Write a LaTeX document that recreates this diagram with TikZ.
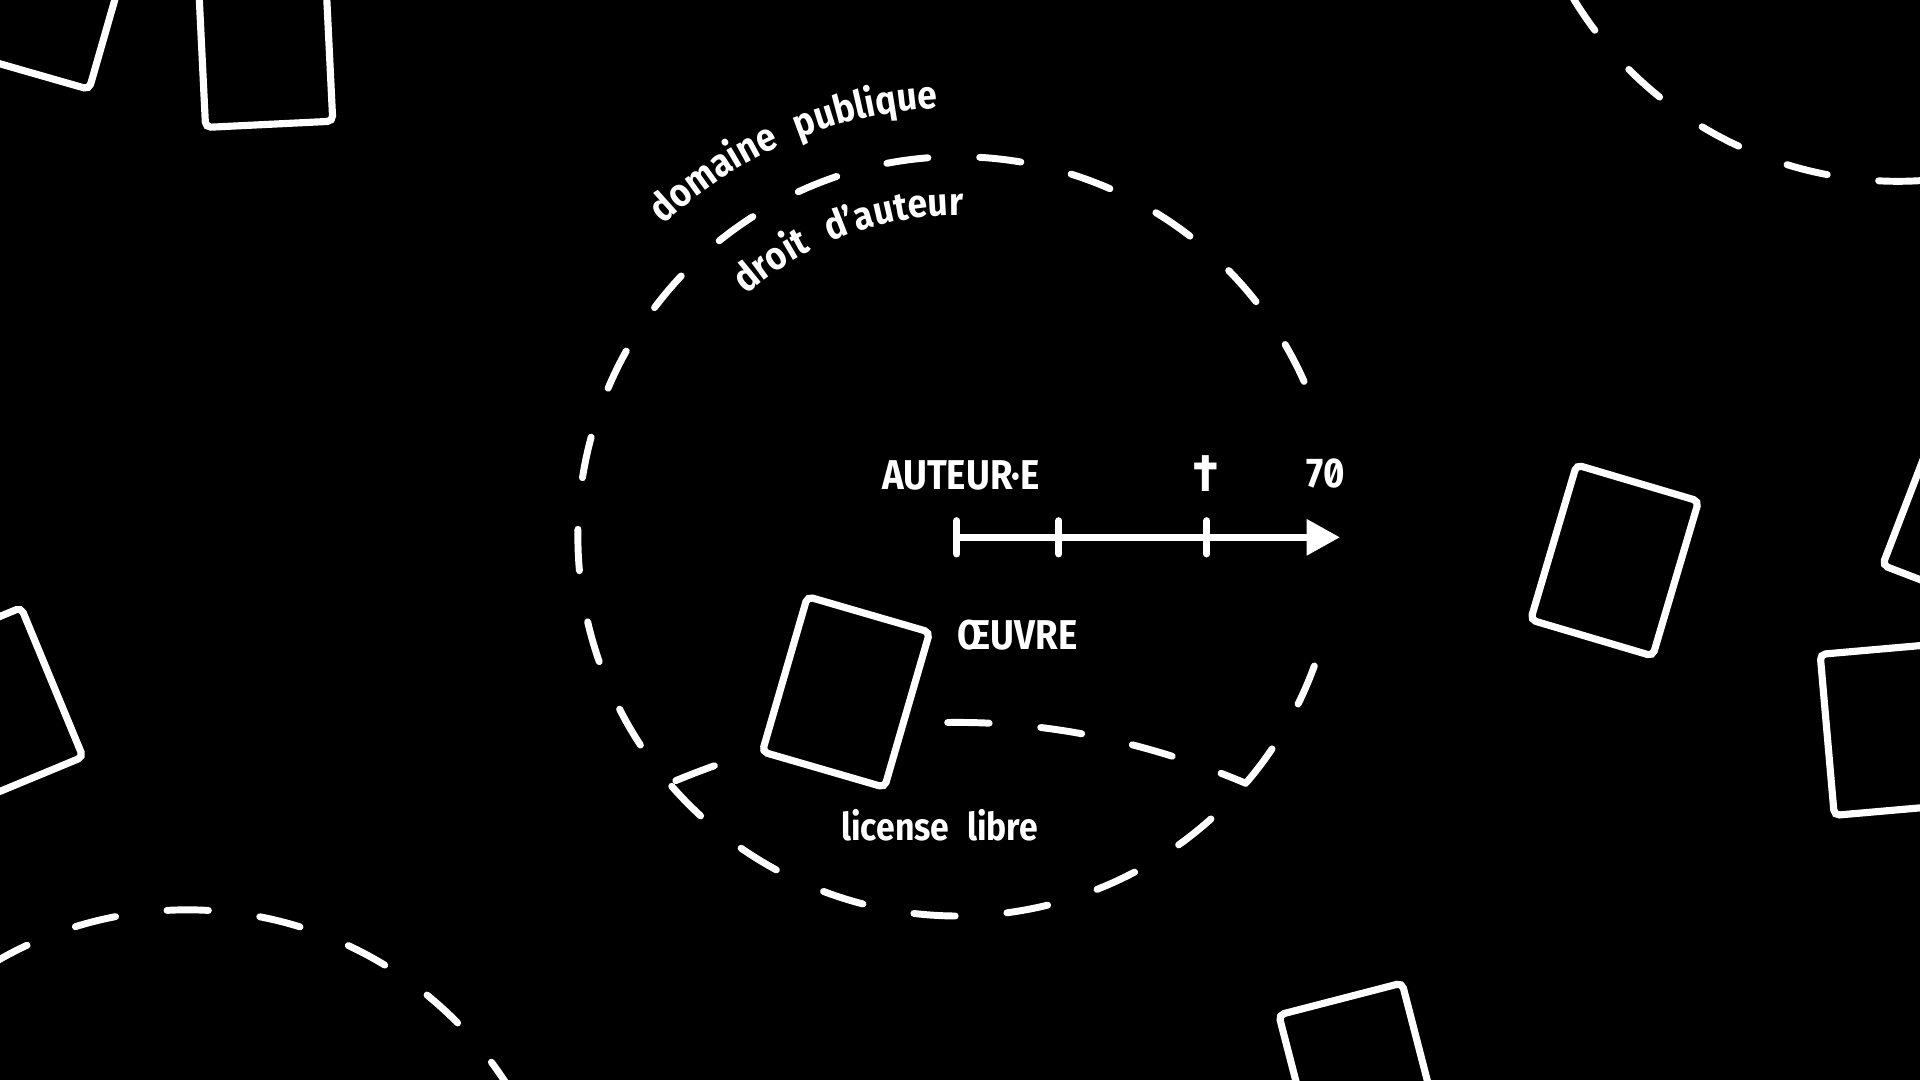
\documentclass[tikz,border=0pt]{standalone}
\usepackage{fontspec}
\usetikzlibrary{arrows.meta,decorations.text}
\newfontfamily\labfont{Fira Sans}[FakeStretch=0.88,Numbers=SlashedZero]
\newfontfamily\curvefont{Fira Sans}[FakeStretch=0.9]
\begin{document}
\begin{tikzpicture}[x=0.6pt,y=-0.6pt,
  card/.style={draw=white, fill=black, line width=3.5pt, rounded corners=2.6pt,
    minimum width=62.4pt, minimum height=79.2pt, inner sep=0pt, outer sep=0pt},
  dashline/.style={draw=white, line width=3.4pt, line cap=round,
    dash pattern=on 20.3pt off 25.4pt},
  axisline/.style={draw=white, line width=3.4pt, line cap=round,
    -{Triangle[length=16.3pt,width=17pt]}},
  tick/.style={draw=white, line width=3.4pt, line cap=round},
  lab/.style={text=white, inner sep=0pt,
    font=\labfont\bfseries\fontsize{20.4pt}{20.4pt}\selectfont},
  labsmall/.style={text=white, inner sep=0pt,
    font=\labfont\bfseries\fontsize{18.8pt}{18.8pt}\selectfont}
]
\fill[black] (0,0) rectangle (1568,882);
\useasboundingbox (0,0) rectangle (1568,882);
\clip (0,0) rectangle (1568,882);

% main region: droit d'auteur circle
\coordinate (C) at (782,438);
\draw[dashline] ([shift={(-24.1:310)}]C) arc[start angle=-24.1, end angle=-340.3, radius=310];
% license libre boundary
\coordinate (L) at (546.6,639.7);
\coordinate (R) at (1017.4,639.7);
\draw[dashline, dash phase=42.3pt] (L) .. controls (703.5,573.4) and (860.3,573.4) .. (R);

% neighbouring circles
\coordinate (C2) at (1550,-162);
\coordinate (C3) at (153,1053);
\draw[dashline] ([shift={(-196.7:310)}]C2) arc[start angle=-196.7, end angle=-320, radius=310];
\draw[dashline] ([shift={(-135.3:310)}]C3) arc[start angle=-135.3, end angle=10, radius=310];

% cards
\node[card, rotate=-16]   (c1) at (41,-4.8) {};
\node[card, rotate=2.8]   (c2) at (216.6,35.6) {};
\node[card, rotate=22.5]  (c3) at (-5.5,577.1) {};
\node[card, rotate=-16.2] (oeuvre) at (690.9,565.1) {};
\node[card, rotate=-16.5] (c5) at (1318.6,457.7) {};
\node[card, rotate=-21]   (c6) at (1609.6,418.6) {};
\node[card, rotate=5]     (c7) at (1544,595.6) {};
\node[card, rotate=14.5]  (c8) at (1111.2,879.7) {};

% timeline
\coordinate (t0) at (781.5,438.8);
\coordinate (t1) at (864.8,438.8);
\coordinate (t2) at (985.5,438.8);
\coordinate (tip) at (1094.3,438.8);
\draw[axisline] (t0) -- (tip);
\foreach \t in {t0,t1,t2} \draw[tick] ([yshift=8.16pt]\t) -- ([yshift=-8.16pt]\t);

% labels
\node[lab, anchor=base] (auteur) at (784.7,399.6) {AUTEUR·E};
\node[lab, font=\labfont\bfseries\fontsize{26pt}{26pt}\selectfont] (dagger) at (985,386.5) {†};
\node[lab, anchor=base] (seventy) at (1082.8,398.5) {70};
\node[lab, anchor=base] (oeuvretxt) at (831,530.8) {ŒUVRE};
\node[labsmall, anchor=base] (libre) at (767.4,686.5) {license\hspace{0.25em} libre};

% curved labels
\path[decorate, decoration={text along path, text color=white,
  text={|\curvefont\bfseries\fontsize{19.2pt}{19.2pt}\selectfont|domaine{\hspace{0.3em}} publique}}]
  ([shift={(-133.3:350)}]C) arc[start angle=-133.3, end angle=-55, radius=350];
\path[decorate, decoration={text along path, text color=white,
  text={|\curvefont\bfseries\fontsize{19.2pt}{19.2pt}\selectfont|droit{\hspace{0.3em}} d’auteur}}]
  ([shift={(-131.2:262)}]C) arc[start angle=-131.2, end angle=-45, radius=262];
\end{tikzpicture}
\end{document}
